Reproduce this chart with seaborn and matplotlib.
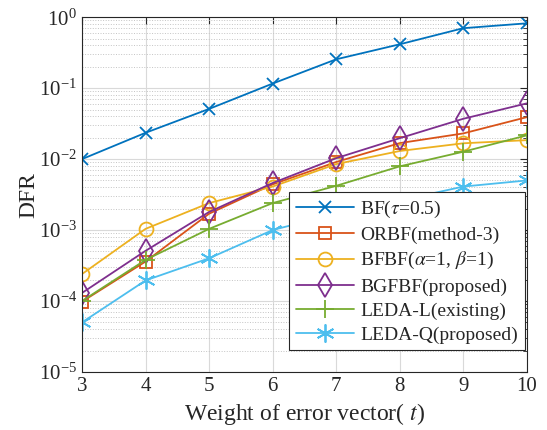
import numpy as np
import pandas as pd
import matplotlib
matplotlib.use("Agg")
import matplotlib.pyplot as plt
import seaborn as sns
from matplotlib.ticker import LogLocator, NullFormatter

# --- Data ---
t_values = [3, 4, 5, 6, 7, 8, 9, 10]
bf = [1.0e-2, 2.35e-2, 5.1e-2, 1.16e-1, 2.55e-1, 4.15e-1, 7.0e-1, 8.2e-1]
orbf = [9.8e-5, 3.6e-4, 1.7e-3, 4.4e-3, 9.1e-3, 1.68e-2, 2.3e-2, 3.9e-2]
bfbf = [2.4e-4, 1.04e-3, 2.4e-3, 4.1e-3, 8.5e-3, 1.3e-2, 1.67e-2, 1.85e-2]
bgfbf = [1.3e-4, 5.1e-4, 1.8e-3, 4.6e-3, 1.03e-2, 1.97e-2, 3.7e-2, 6.1e-2]
leda_l = [1.0e-4, 3.8e-4, 1.04e-3, 2.4e-3, 4.2e-3, 7.9e-3, 1.27e-2, 2.16e-2]
leda_q = [5.0e-5, 1.95e-4, 4.0e-4, 1.0e-3, 1.7e-3, 2.6e-3, 4.1e-3, 5.0e-3]

labels = [
    r"BF($\tau$=0.5)",
    "ORBF(method-3)",
    r"BFBF($\alpha$=1, $\beta$=1)",
    "BGFBF(proposed)",
    "LEDA-L(existing)",
    "LEDA-Q(proposed)",
]
series = [bf, orbf, bfbf, bgfbf, leda_l, leda_q]
colors = ["#0072BD", "#D95319", "#EDB120", "#7E2F8E", "#77AC30", "#4DBEEE"]
markers = ["x", "s", "o", "d", "+", (6, 2, 0)]
msizes = [9, 8, 10, 12, 13, 13]

rows = []
for lab, vals in zip(labels, series):
    for t, v in zip(t_values, vals):
        rows.append({"t": t, "dfr": v, "method": lab})
df = pd.DataFrame(rows)

# --- Plot ---
sns.set_style("white")
plt.rcParams["font.family"] = ["Liberation Serif", "DejaVu Serif"]
plt.rcParams["mathtext.fontset"] = "stix"

fig = plt.figure(figsize=(5.47, 4.30), dpi=100)
ax = fig.add_axes([0.150, 0.135, 0.813, 0.825])

for lab, col, mk, ms in zip(labels, colors, markers, msizes):
    sub = df[df["method"] == lab]
    sns.lineplot(data=sub, x="t", y="dfr", ax=ax, color=col, marker=mk,
                 markersize=ms, markerfacecolor="none", markeredgecolor=col,
                 markeredgewidth=1.3, linewidth=1.3, label=lab)

ax.set_yscale("log")
ax.set_xlim(3, 10)
ax.set_ylim(1e-5, 1)
ax.set_xticks(t_values)
ax.yaxis.set_major_locator(LogLocator(base=10, numticks=10))
ax.yaxis.set_minor_locator(LogLocator(base=10, subs=np.arange(2, 10), numticks=20))
ax.yaxis.set_minor_formatter(NullFormatter())

ax.grid(True, which="major", color="#d9d9d9", linestyle="-", linewidth=0.8)
ax.grid(True, which="minor", axis="y", color="#c4c4c4", linestyle=":", linewidth=0.7)
ax.set_axisbelow(True)

ax.tick_params(which="both", direction="in", top=True, right=True, labelsize=15)
ax.tick_params(which="major", length=5)
ax.tick_params(which="minor", length=3)
for s in ax.spines.values():
    s.set_color("#262626")
    s.set_linewidth(0.8)

ax.set_xlabel(r"Weight of error vector( $t$)", fontsize=17)
ax.set_ylabel("DFR", fontsize=17, labelpad=0)

leg = ax.legend(loc="lower right", bbox_to_anchor=(1.0, 0.055), fontsize=14,
                frameon=True, fancybox=False, edgecolor="#262626",
                framealpha=1, handlelength=3.0, borderpad=0.35, labelspacing=0.33,
                handletextpad=0.3, borderaxespad=0.1)
leg.get_frame().set_linewidth(0.8)

fig.savefig("out.png", dpi=100)
